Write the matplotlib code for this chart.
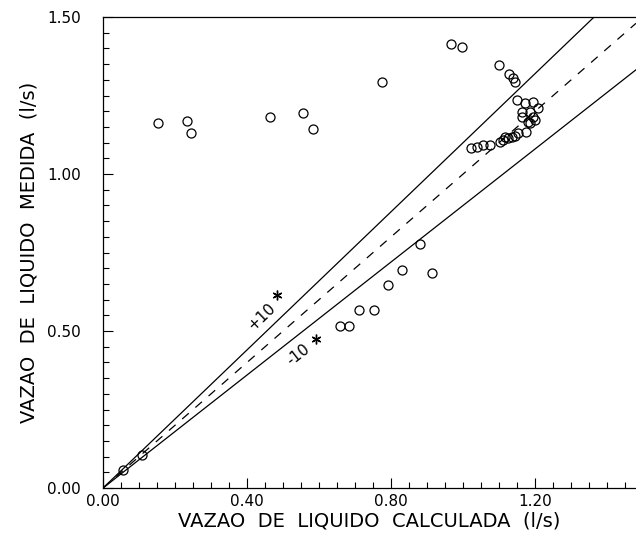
import numpy as np
import matplotlib
matplotlib.use("Agg")
import matplotlib.pyplot as plt
from matplotlib.ticker import MultipleLocator, FormatStrFormatter

# measured points (circles): calculated vs measured flow (l/s)
calc_circ = [0.056, 0.108,
             0.153, 0.233, 0.244, 0.464, 0.556, 0.584, 0.775,
             0.967, 0.997, 1.100, 1.128, 1.139, 1.144,
             1.150, 1.172, 1.194, 1.208, 1.164, 1.186, 1.164, 1.194,
             1.181, 1.200, 1.186, 1.175, 1.153, 1.144, 1.136, 1.125,
             1.117, 1.111, 1.103, 1.075, 1.056, 1.039, 1.022,
             0.881, 0.914, 0.831, 0.792, 0.753, 0.711, 0.658, 0.683]
meas_circ = [0.057, 0.105,
             1.162, 1.169, 1.131, 1.182, 1.194, 1.143, 1.293,
             1.414, 1.404, 1.347, 1.318, 1.306, 1.293,
             1.236, 1.226, 1.229, 1.210, 1.197, 1.197, 1.182, 1.182,
             1.166, 1.172, 1.162, 1.134, 1.131, 1.121, 1.118, 1.115,
             1.118, 1.108, 1.102, 1.092, 1.092, 1.086, 1.083,
             0.777, 0.685, 0.694, 0.646, 0.567, 0.567, 0.516, 0.516]

# asterisk points
calc_star = [0.483, 0.592]
meas_star = [0.615, 0.475]

# +/-10 % band
band = [1.10, 0.90]
band_labels = ["+10", "-10"]

fig = plt.figure(figsize=(6.36, 5.42), dpi=100)
ax = fig.add_axes([0.162, 0.0996, 0.838, 0.869])

xmax = 1.48
xs = np.array([0.0, xmax])
ax.plot(xs, xs, color="black", lw=0.9, dashes=(7, 7))
for k in band:
    ax.plot(xs, k * xs, color="black", lw=0.9)

ax.plot(calc_circ, meas_circ, linestyle="none", marker="o", markersize=6.5,
        markerfacecolor="none", markeredgecolor="black", markeredgewidth=0.9)
ax.plot(calc_star, meas_star, linestyle="none", marker=(6, 2, 0), markersize=7,
        color="black", markeredgewidth=1.0)

ax.text(0.442, 0.545, band_labels[0], rotation=44, ha="center", va="center",
        fontsize=11)
ax.text(0.542, 0.424, band_labels[1], rotation=38, ha="center", va="center",
        fontsize=11)

ax.set_xlim(0, xmax)
ax.set_ylim(0, 1.5)
ax.xaxis.set_major_locator(MultipleLocator(0.4))
ax.xaxis.set_minor_locator(MultipleLocator(0.05))
ax.yaxis.set_major_locator(MultipleLocator(0.5))
ax.yaxis.set_minor_locator(MultipleLocator(0.05))
ax.xaxis.set_major_formatter(FormatStrFormatter("%.2f"))
ax.yaxis.set_major_formatter(FormatStrFormatter("%.2f"))
ax.tick_params(which="both", direction="in", top=False, right=False,
               labelsize=11, width=0.8)
ax.tick_params(which="major", length=7)
ax.tick_params(which="minor", length=4)
ax.tick_params(axis="x", which="major", pad=4)
ax.tick_params(axis="y", which="major", pad=16)
ax.spines["right"].set_visible(False)
for s in ["left", "bottom", "top"]:
    ax.spines[s].set_linewidth(0.9)

ax.set_xlabel("VAZAO  DE  LIQUIDO  CALCULADA  (l/s)", fontsize=14, labelpad=2)
ax.set_ylabel("VAZAO  DE  LIQUIDO  MEDIDA  (l/s)", fontsize=14, labelpad=6)

fig.savefig("out.png", dpi=100)
